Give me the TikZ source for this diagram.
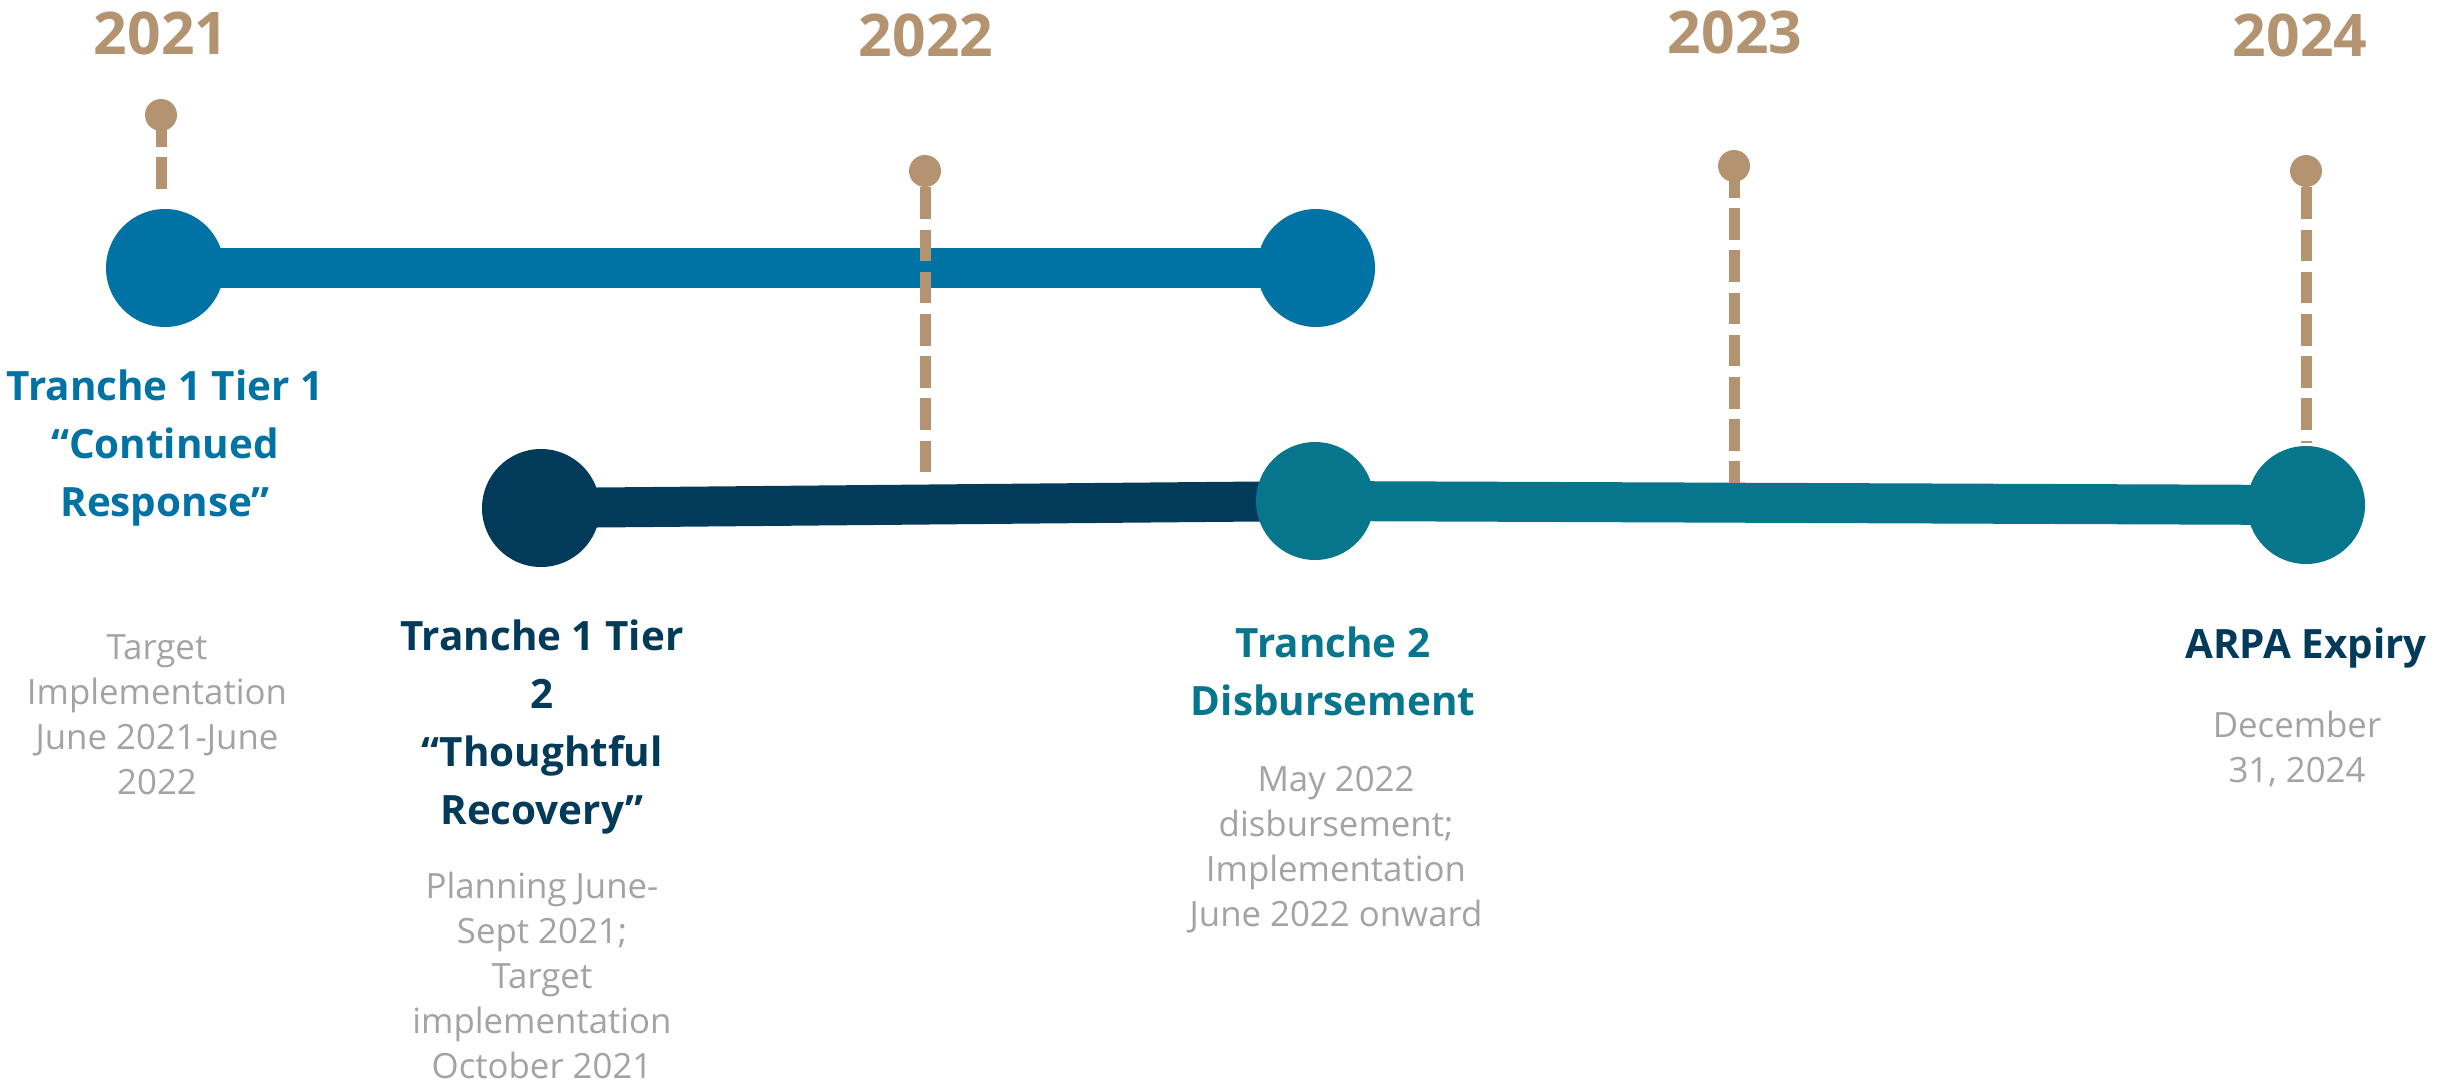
\documentclass[tikz,border=0pt]{standalone}
\usepackage{fontspec}
\setmainfont{Open Sans}
\usetikzlibrary{backgrounds}
\definecolor{ctan}{HTML}{B39370}
\definecolor{cblue}{HTML}{0072A3}
\definecolor{cnavy}{HTML}{023A5A}
\definecolor{cteal}{HTML}{07758C}
\definecolor{cgray}{HTML}{A3A3A3}
\begin{document}
\begin{tikzpicture}[x=0.5pt,y=-0.5pt,
  year/.style={font=\bfseries\fontsize{29.4}{30}\selectfont, text=ctan, anchor=base, inner sep=0},
  pin/.style={circle, fill=ctan, minimum size=16pt, inner sep=0},
  guide/.style={draw=ctan, line width=5.5pt, dash pattern=on 15.8pt off 5.3pt},
  milestone/.style={circle, minimum size=59pt, inner sep=0},
  bar/.style={line width=20pt},
  title/.style={font=\bfseries\fontsize{20.2}{29}\selectfont, align=center, anchor=base, inner sep=0},
  note/.style={font=\fontsize{17.4}{22.5}\selectfont, text=cgray, align=center, anchor=base, inner sep=0}]
\useasboundingbox (0,0) rectangle (2458,1083);

% year labels
\node[year] (y1) at (161,54) {2021};
\node[year] (y2) at (926,56) {2022};
\node[year] (y3) at (1735,53) {2023};
\node[year] (y4) at (2300,56) {2024};

% milestones
\node[milestone, fill=cblue] (c1) at (165,268) {};
\node[milestone, fill=cblue] (c2) at (1316,268) {};
\node[milestone, fill=cnavy] (d1) at (541,508) {};
\node[milestone, fill=cteal] (t1) at (1315,501) {};
\node[milestone, fill=cteal] (t2) at (2306,505) {};

\begin{pgfonlayer}{background}
  \draw[bar, cblue] (c1.center) -- (c2.center);
  \draw[bar, cnavy] (d1.center) -- (t1.center);
  \draw[bar, cteal] (t1.center) -- (t2.center);
\end{pgfonlayer}

% pins and dashed guides
\node[pin] (p1) at (161,115) {};
\node[pin] (p2) at (925,171) {};
\node[pin] (p3) at (1734,166) {};
\node[pin] (p4) at (2306,171) {};
\coordinate (e1) at (161,198);
\coordinate (e2) at (925,478);
\coordinate (e3) at (1734,483);
\coordinate (e4) at (2306,443);
\draw[guide] (p1.center) -- (e1);
\draw[guide] (p2.south) -- (e2);
\draw[guide] (p3.center) -- (e3);
\draw[guide] (p4.south) -- (e4);

% labels (anchored at the baseline of their last line)
\node[title, text=cblue] (l1) at (165,516) {Tranche 1 Tier 1\\“Continued\\Response”};
\node[note] (n1) at (157,794) {Target\\Implementation\\June 2021-June\\2022};
\node[title, text=cnavy] (l2) at (542,824) {Tranche 1 Tier\\2\\“Thoughtful\\Recovery”};
\node[note] (n2) at (542,1078) {Planning June-\\Sept 2021;\\Target\\implementation\\October 2021};
\node[title, text=cteal] (l3) at (1333,715) {Tranche 2\\Disbursement};
\node[note] (n3) at (1336,926) {May 2022\\disbursement;\\Implementation\\June 2022 onward};
\node[title, text=cnavy] (l4) at (2306,658) {ARPA Expiry};
\node[note] (n4) at (2297,782) {December\\31, 2024};
\end{tikzpicture}
\end{document}
